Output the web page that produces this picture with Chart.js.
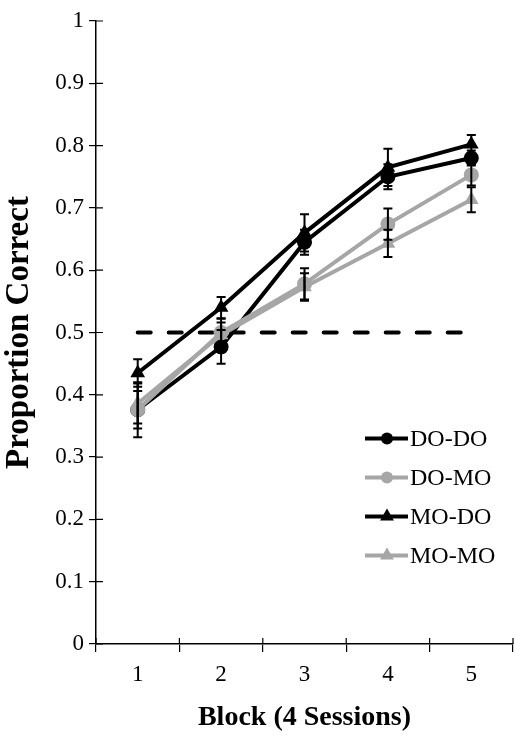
<!DOCTYPE html>
<html>
<head>
<meta charset="utf-8">
<script src="https://cdn.jsdelivr.net/npm/chart.js@4/dist/chart.umd.min.js"></script>
<style>
  html, body { margin: 0; padding: 0; background: #fff; }
</style>
</head>
<body>
<canvas id="chart" width="515" height="738"></canvas>
<script>
const blocks = ["1", "2", "3", "4", "5"];
const seriesNames = ["DO-DO", "DO-MO", "MO-DO", "MO-MO"];

const doDo = [0.376, 0.477, 0.645, 0.750, 0.780];
const doMo = [0.376, 0.500, 0.578, 0.674, 0.753];
const moDo = [0.435, 0.540, 0.660, 0.765, 0.802];
const moMo = [0.386, 0.496, 0.573, 0.643, 0.713];

const doDoErr = [0.044, 0.027, 0.020, 0.020, 0.012];
const doMoErr = [0.030, 0.022, 0.025, 0.025, 0.017];
const moDoErr = [0.022, 0.017, 0.030, 0.030, 0.015];
const moMoErr = [0.032, 0.020, 0.022, 0.022, 0.020];

const chanceLevel = [0.5, 0.5, 0.5, 0.5, 0.5];

const BLACK = "#000000";
const GREY = "#a6a6a6";
const serif = "'Liberation Serif', 'Times New Roman', serif";

function series(label, data, errors, color, shape, order) {
    return {
        label: label,
        data: data,
        errors: errors,
        borderColor: color,
        backgroundColor: color,
        borderWidth: 4,
        pointStyle: shape,
        pointRadius: shape === "triangle" ? 8.5 : 7.5,
        pointBorderWidth: 0,
        tension: 0,
        order: order
    };
}

// error bars, drawn over the markers like the original
const errorBars = {
    id: "errorBars",
    afterDatasetsDraw(chart) {
        const ctx = chart.ctx;
        const y = chart.scales.y;
        ctx.save();
        ctx.strokeStyle = BLACK;
        ctx.lineWidth = 2;
        chart.data.datasets.forEach((ds, i) => {
            if (!ds.errors) return;
            const meta = chart.getDatasetMeta(i);
            meta.data.forEach((pt, j) => {
                const top = y.getPixelForValue(ds.data[j] + ds.errors[j]);
                const bot = y.getPixelForValue(ds.data[j] - ds.errors[j]);
                ctx.beginPath();
                ctx.moveTo(pt.x, top); ctx.lineTo(pt.x, bot);
                ctx.moveTo(pt.x - 4.5, top); ctx.lineTo(pt.x + 4.5, top);
                ctx.moveTo(pt.x - 4.5, bot); ctx.lineTo(pt.x + 4.5, bot);
                ctx.stroke();
            });
        });
        ctx.restore();
    }
};

// tick marks crossing into the plot, and the legend inside the plot
const extras = {
    id: "extras",
    afterDraw(chart) {
        const ctx = chart.ctx;
        const area = chart.chartArea;
        const xs = chart.scales.x, ys = chart.scales.y;
        ctx.save();
        ctx.strokeStyle = BLACK;
        ctx.lineWidth = 1.2;
        ctx.beginPath();
        ys.ticks.forEach((t, i) => {
            const py = ys.getPixelForTick(i);
            ctx.moveTo(area.left, py); ctx.lineTo(area.left + 7, py);
        });
        for (let i = 0; i <= blocks.length; i++) {
            const px = xs.getPixelForValue(i - 0.5);
            ctx.moveTo(px, area.bottom); ctx.lineTo(px, area.bottom - 6);
        }
        ctx.stroke();

        // legend
        const lx = area.right - 148;
        let ly = ys.getPixelForValue(0.33);
        ctx.font = "24px " + serif;
        ctx.textBaseline = "middle";
        chart.data.datasets.forEach(ds => {
            if (!ds.errors) return;
            ctx.strokeStyle = ds.borderColor;
            ctx.lineWidth = 4;
            ctx.beginPath();
            ctx.moveTo(lx, ly); ctx.lineTo(lx + 43, ly);
            ctx.stroke();
            ctx.fillStyle = ds.backgroundColor;
            Chart.helpers.drawPoint(ctx, {
                pointStyle: ds.pointStyle,
                radius: ds.pointStyle === "triangle" ? 8 : 6,
                borderWidth: 0
            }, lx + 22, ly);
            ctx.fillStyle = BLACK;
            ctx.fillText(ds.label, lx + 45, ly + 1);
            ly += 39;
        });
        ctx.restore();
    }
};

new Chart(document.getElementById("chart"), {
    type: "line",
    data: {
        labels: blocks,
        datasets: [
            series(seriesNames[0], doDo, doDoErr, BLACK, "circle", 4),
            series(seriesNames[1], doMo, doMoErr, GREY, "circle", 3),
            series(seriesNames[2], moDo, moDoErr, BLACK, "triangle", 2),
            series(seriesNames[3], moMo, moMoErr, GREY, "triangle", 1),
            {
                label: "chance",
                data: chanceLevel,
                borderColor: BLACK,
                borderWidth: 4,
                borderDash: [13, 18],
                borderCapStyle: "round",
                pointRadius: 0,
                order: 5
            }
        ]
    },
    options: {
        responsive: false,
        animation: false,
        layout: { autoPadding: false, padding: { top: 21, right: 2, bottom: 0, left: 0 } },
        plugins: {
            legend: { display: false },
            tooltip: { enabled: false }
        },
        scales: {
            x: {
                offset: true,
                afterFit(scale) {
                    scale.height = 94;
                    scale.paddingLeft = 0;
                    scale.paddingRight = 0;
                },
                grid: { offset: true, drawOnChartArea: false, color: BLACK, tickLength: 8, lineWidth: 1.2 },
                border: { color: BLACK, width: 1.5 },
                ticks: { color: BLACK, padding: 9, font: { family: serif, size: 23 } },
                title: {
                    display: true,
                    text: "Block (4 Sessions)",
                    color: BLACK,
                    font: { family: serif, size: 28, weight: "bold" },
                    padding: { top: 10, bottom: 3 }
                }
            },
            y: {
                min: 0,
                max: 1,
                afterFit(scale) {
                    scale.width = 96;
                    scale.paddingTop = 0;
                    scale.paddingBottom = 0;
                },
                grid: { drawOnChartArea: false, color: BLACK, tickLength: 7, lineWidth: 1.2 },
                border: { color: BLACK, width: 1.5 },
                ticks: {
                    stepSize: 0.1,
                    color: BLACK,
                    padding: 5,
                    font: { family: serif, size: 23 },
                    callback: v => String(Math.round(v * 10) / 10)
                },
                title: {
                    display: true,
                    text: "Proportion Correct",
                    color: BLACK,
                    font: { family: serif, size: 33, weight: "bold" },
                    padding: { top: 0, bottom: 0 }
                }
            }
        }
    },
    plugins: [errorBars, extras]
});
</script>
</body>
</html>
